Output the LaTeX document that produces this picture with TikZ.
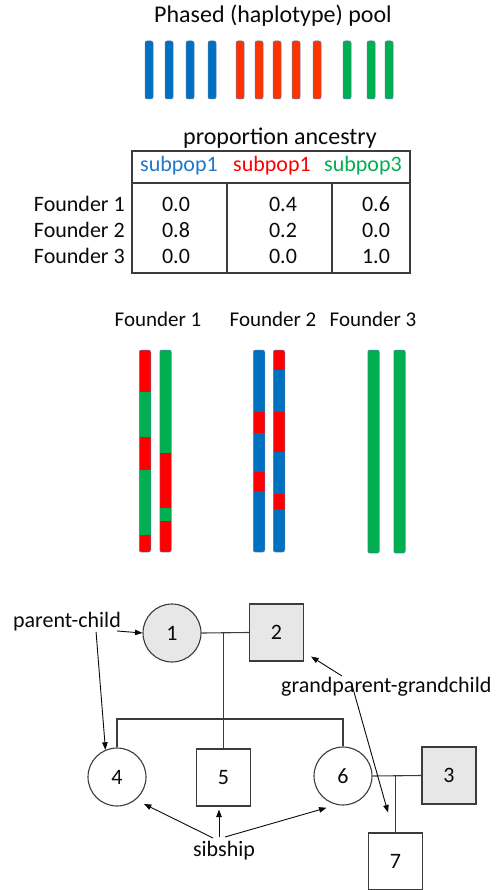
\documentclass[tikz,border=0pt]{standalone}
\usepackage{fontspec}
\setmainfont{Carlito}
\usetikzlibrary{arrows.meta}

\definecolor{cblue}{RGB}{0,112,192}
\definecolor{cred}{RGB}{255,0,0}
\definecolor{corange}{RGB}{255,51,0}
\definecolor{cgreen}{RGB}{0,176,80}
\definecolor{hblue}{RGB}{30,120,205}
\definecolor{barline}{RGB}{84,120,170}
\definecolor{ink}{RGB}{10,10,10}
\definecolor{linec}{RGB}{60,60,60}
\definecolor{shade}{RGB}{231,231,231}

\tikzset{
  lbl/.style={font=\fontsize{22}{26}\selectfont, text=ink, inner sep=0pt},
  flbl/.style={font=\fontsize{21}{25}\selectfont, text=ink, inner sep=0pt},
  big/.style={font=\fontsize{24}{28}\selectfont, text=ink, inner sep=0pt},
  poolbar/.style={draw=barline, line width=0.5pt, rounded corners=2pt},
  chrom/.style={draw=barline, line width=0.5pt, rounded corners=2pt},
  tbl/.style={draw=linec, line width=1.3pt},
  female/.style={circle, draw=linec, line width=1.1pt, minimum size=58pt,
    inner sep=0pt, font=\fontsize{22}{26}\selectfont, text=ink},
  male/.style={rectangle, draw=linec, line width=1.1pt, minimum width=54pt,
    minimum height=57pt, inner sep=0pt, font=\fontsize{22}{26}\selectfont, text=ink},
  rel/.style={draw=linec, line width=1.1pt},
  arr/.style={draw=ink, line width=0.9pt, -{Triangle[length=7.5pt,width=5.5pt]}},
}

% one chromosome: #1 = centre x, #2 = bottom y, #3 = list top/bottom/colour
\newcommand\chromosome[3]{%
  \begin{scope}
    \clip[rounded corners=2pt] (#1-5.75,350) rectangle (#1+5.75,#2);
    \foreach \a/\b/\c in {#3} \fill[\c] (#1-5.75,\a) rectangle (#1+5.75,\b);
  \end{scope}
  \draw[chrom] (#1-5.75,350) rectangle (#1+5.75,#2);
}

\begin{document}
\begin{tikzpicture}[x=1pt,y=-1pt]
\fill[white] (0,0) rectangle (500,890);
\path[use as bounding box] (0,0) rectangle (500,890);

% ---- haplotype pool ----
\node[big, anchor=base] (title) at (273,23) {Phased (haplotype) pool};
\foreach \x in {149,169,190,212}
  \draw[poolbar, fill=cblue] (\x-4,41) rectangle (\x+4,99);
\foreach \x in {240,259,277,296,317}
  \draw[poolbar, fill=corange] (\x-4,41) rectangle (\x+4,99);
\foreach \x in {347,371,389}
  \draw[poolbar, fill=cgreen] (\x-4,41) rectangle (\x+4,99);

% ---- ancestry table ----
\node[big, anchor=base] (anc) at (280,145) {proportion ancestry};
\draw[tbl] (132,151) rectangle (410,273);
\draw[tbl] (132,183) -- (410,183);
\draw[tbl] (227,183) -- (227,273);
\draw[tbl] (332,183) -- (332,273);
\node[lbl, anchor=base, text=hblue] (h1) at (179,172) {subpop1};
\node[lbl, anchor=base, text=cred] (h2) at (272,172) {subpop1};
\node[lbl, anchor=base, text=cgreen] (h3) at (363,172) {subpop3};

\node[lbl, anchor=base east] (r1) at (125,212) {Founder 1};
\node[lbl, anchor=base east] (r2) at (125,238) {Founder 2};
\node[lbl, anchor=base east] (r3) at (125,264) {Founder 3};
\foreach \y/\a/\b/\c in {212/0.0/0.4/0.6, 238/0.8/0.2/0.0, 264/0.0/0.0/1.0}{
  \node[lbl, anchor=base] at (176,\y) {\a};
  \node[lbl, anchor=base] at (283,\y) {\b};
  \node[lbl, anchor=base] at (376,\y) {\c};
}

% ---- founder chromosomes ----
\node[flbl, anchor=base] (f1) at (158,326) {Founder 1};
\node[flbl, anchor=base] (f2) at (273,326) {Founder 2};
\node[flbl, anchor=base] (f3) at (373,326) {Founder 3};

\chromosome{145}{552}{350/392/cred, 392/437/cgreen, 437/470/cred, 470/535/cgreen, 535/552/cred}
\chromosome{165.5}{552}{350/453/cgreen, 453/508/cred, 508/521/cgreen, 521/552/cred}
\chromosome{259}{552}{350/412/cblue, 412/433/cred, 433/472/cblue, 472/491/cred, 491/552/cblue}
\chromosome{279}{552}{350/370/cred, 370/412/cblue, 412/452/cred, 452/494/cblue, 494/509/cred, 509/552/cblue}
\chromosome{373.5}{553}{350/553/cgreen}
\chromosome{399.5}{553}{350/553/cgreen}

% ---- pedigree ----
\node[female, fill=shade] (n1) at (172,633) {1};
\node[male, fill=shade] (n2) at (276.5,632.5) {2};
\node[female] (n4) at (117,777) {4};
\node[male] (n5) at (223.5,777.5) {5};
\node[female] (n6) at (343,776) {6};
\node[male, fill=shade] (n3) at (449,775.5) {3};
\node[male] (n7) at (395.5,861.5) {7};

\coordinate (m12) at (223.5,633);
\coordinate (sibbar) at (223.5,719);
\coordinate (m63) at (395.5,776);
\draw[rel] (n1.east) -- (n2.west);
\draw[rel] (m12) -- (n5.north);
\draw[rel] (n4.north) |- (sibbar) -| (n6.north);
\draw[rel] (n6.east) -- (n3.west);
\draw[rel] (m63) -- (n7.north);

% ---- relationship labels ----
\node[lbl, anchor=base] (pc) at (67,627) {parent-child};
\node[lbl, anchor=base west] (gg) at (281,692) {grandparent-grandchild};
\node[lbl, anchor=base] (sb) at (224,856) {sibship};

\draw[arr] ([xshift=-4pt,yshift=-4pt]pc.base east) -- (n1.west);
\draw[arr] ([xshift=-25pt,yshift=-5pt]pc.base east) -- (n4.113);
\draw[arr] ([xshift=61pt,yshift=16pt]gg.base west) -- ([xshift=7pt,yshift=5pt]n2.south east);
\draw[arr] ([xshift=71pt,yshift=7pt]gg.base west) -- ([xshift=-7.5pt,yshift=20pt]n7.north);
\draw[arr] ([xshift=-11pt,yshift=18pt]sb.base) -- ([xshift=6pt,yshift=-6pt]n4.south east);
\draw[arr] ([xshift=-5pt,yshift=19pt]sb.base) -- ([xshift=-4.5pt,yshift=-3pt]n5.south);
\draw[arr] ([xshift=1pt,yshift=19pt]sb.base) -- ([xshift=-4pt,yshift=-5pt]n6.-115);
\end{tikzpicture}
\end{document}
